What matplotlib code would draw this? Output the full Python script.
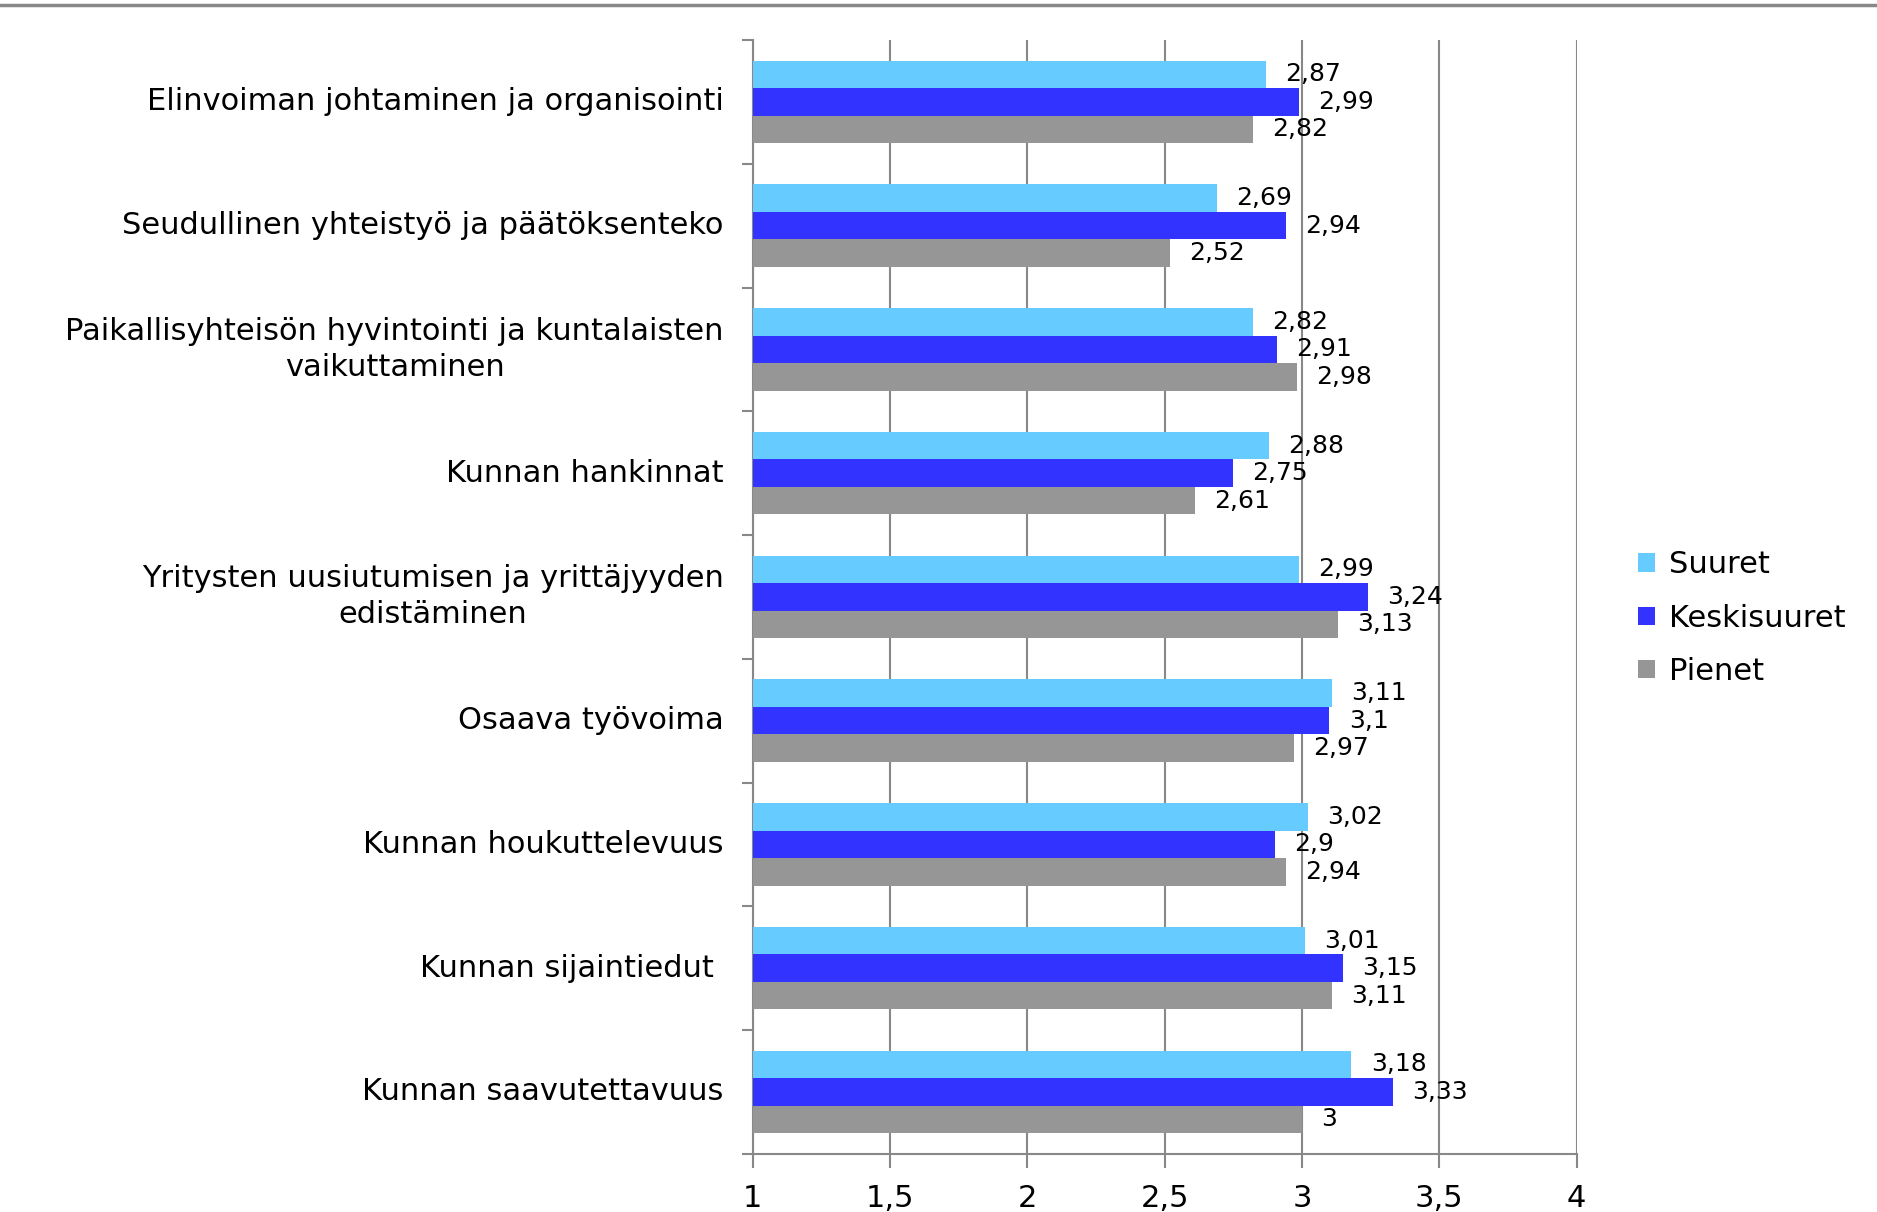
import numpy as np
import matplotlib.pyplot as plt

categories = ["Elinvoiman johtaminen ja organisointi",
              "Seudullinen yhteistyö ja päätöksenteko",
              "Paikallisyhteisön hyvintointi ja kuntalaisten\nvaikuttaminen",
              "Kunnan hankinnat",
              "Yritysten uusiutumisen ja yrittäjyyden\nedistäminen",
              "Osaava työvoima",
              "Kunnan houkuttelevuus",
              "Kunnan sijaintiedut ",
              "Kunnan saavutettavuus"]
suuret = [2.87, 2.69, 2.82, 2.88, 2.99, 3.11, 3.02, 3.01, 3.18]
keskisuuret = [2.99, 2.94, 2.91, 2.75, 3.24, 3.10, 2.90, 3.15, 3.33]
pienet = [2.82, 2.52, 2.98, 2.61, 3.13, 2.97, 2.94, 3.11, 3.00]
series_names = ["Suuret", "Keskisuuret", "Pienet"]
colors = ["#66CCFF", "#3333FF", "#969696"]
xticks = [1, 1.5, 2, 2.5, 3, 3.5, 4]

def fi(v):  # pilkku desimaalierottimena
    s = ("%.2f" % v).rstrip("0").rstrip(".")
    return s.replace(".", ",")

fig = plt.figure(figsize=(18.77, 12.12), dpi=100)
ax = fig.add_axes([0.401, 0.048, 0.439, 0.919])

n = len(categories)
ypos = np.arange(n)
h = 0.222
for k, (vals, name, col) in enumerate(zip([suuret, keskisuuret, pienet], series_names, colors)):
    y = ypos + (k - 1) * h
    ax.barh(y, np.array(vals) - 1, left=1, height=h, color=col, label=name, zorder=3)
    for yy, v in zip(y, vals):
        ax.text(v + 0.07, yy, fi(v), va="center", ha="left", fontsize=18, zorder=4)

ax.set_xlim(1, 4)
ax.set_ylim(n - 0.5, -0.5)
ax.set_xticks(xticks)
ax.set_xticklabels([fi(t) for t in xticks], fontsize=22)
ax.tick_params(axis="x", length=10, color="#888888", width=1.5, pad=12)
ax.set_yticks(np.arange(-0.5, n, 1), minor=False)
ax.set_yticklabels([])
ax.tick_params(axis="y", length=8, color="#888888", width=1.5)
for i, c in enumerate(categories):
    ax.text(-0.035, ypos[i], c, transform=ax.get_yaxis_transform(), ha="right", va="center",
            multialignment="center", fontsize=22, linespacing=1.3)

ax.grid(axis="x", color="#888888", linewidth=1.5, zorder=0)
for s in ["top", "right"]:
    ax.spines[s].set_visible(False)
for s in ["left", "bottom"]:
    ax.spines[s].set_color("#888888")
    ax.spines[s].set_linewidth(1.5)

leg = ax.legend(loc="center left", bbox_to_anchor=(1.075, 0.481), frameon=False, fontsize=22,
                handlelength=0.55, handleheight=0.55, handletextpad=0.45, labelspacing=0.8,
                borderpad=0, borderaxespad=0)

fig.add_artist(plt.Line2D([0, 1], [0.996, 0.996], color="#888888", linewidth=2.5, transform=fig.transFigure))

fig.savefig("out.png", dpi=100)
